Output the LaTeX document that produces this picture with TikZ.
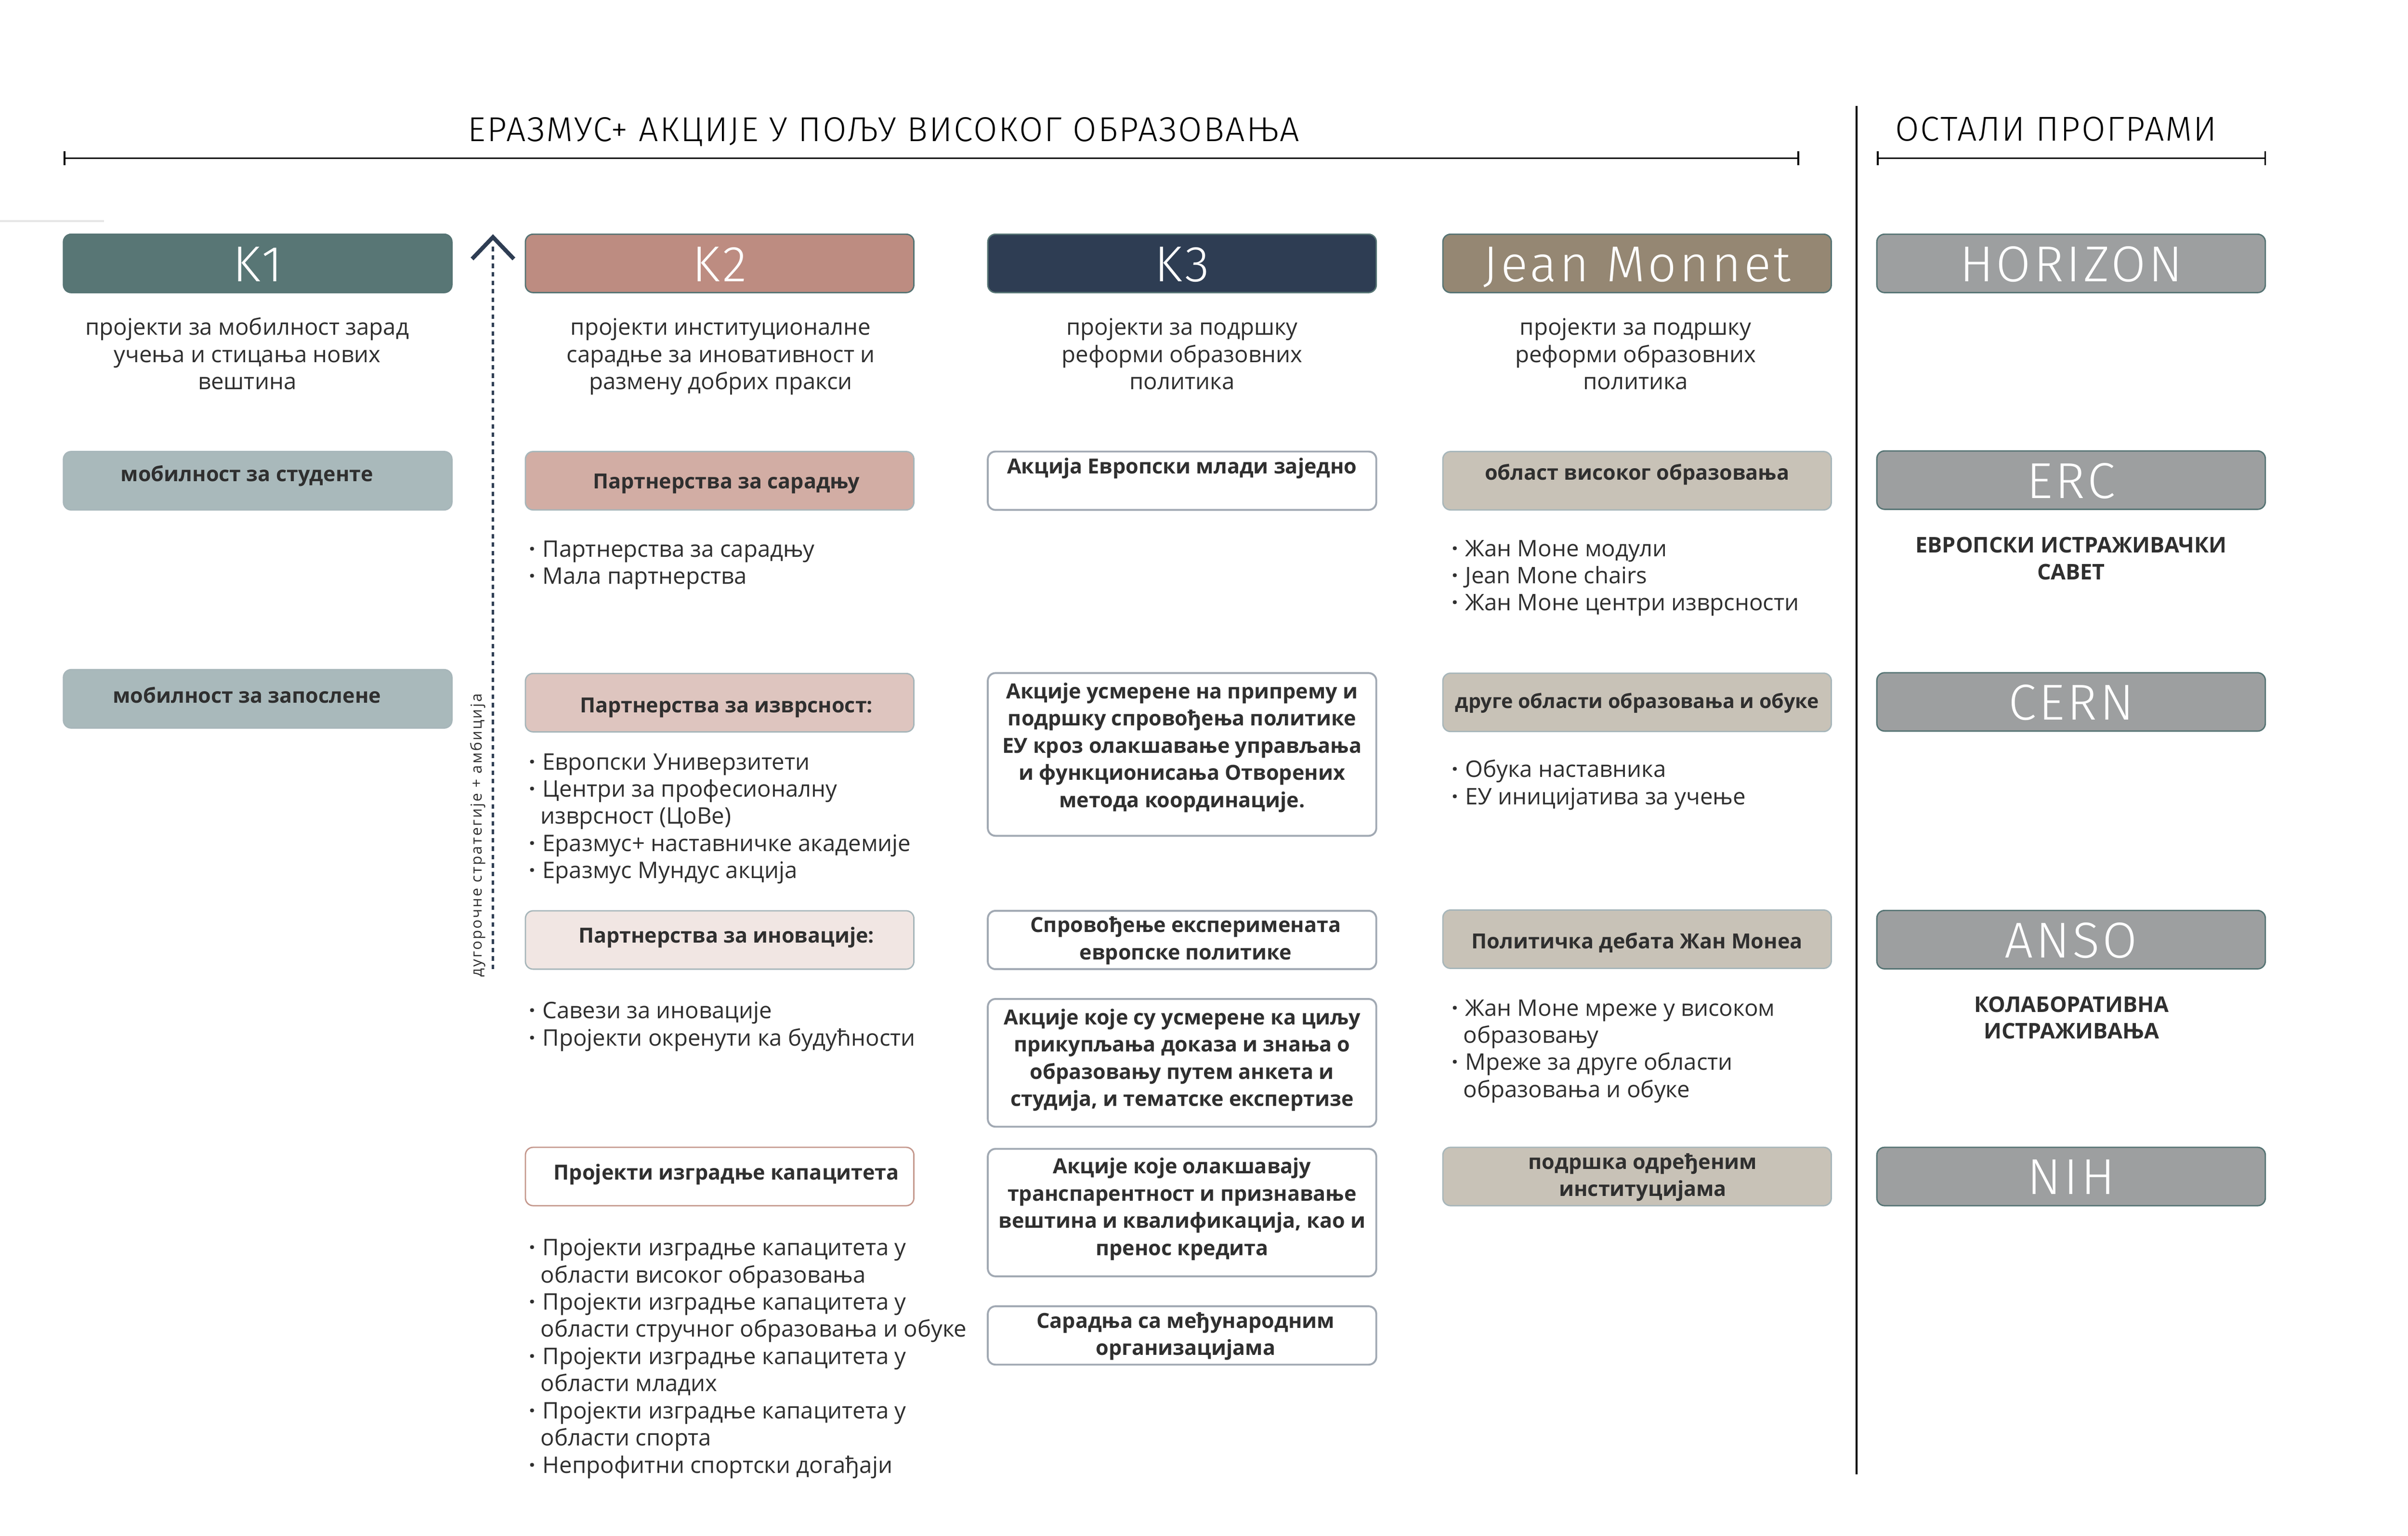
\documentclass[tikz,border=0pt]{standalone}
\usepackage{fontspec}
\setmainfont{Open Sans}
\newfontfamily\hfont[LetterSpace=5.5,UprightFont=* Light]{Fira Sans}
\newfontfamily\tfont[LetterSpace=4,UprightFont=* Light]{Fira Sans}
\newfontfamily\spfont[LetterSpace=10]{Open Sans}

\definecolor{kone}{HTML}{587675}
\definecolor{ktwo}{HTML}{BD8C81}
\definecolor{kthree}{HTML}{2E3D53}
\definecolor{jmon}{HTML}{958773}
\definecolor{othr}{HTML}{9D9FA0}
\definecolor{konel}{HTML}{A9B9BB}
\definecolor{ktwoa}{HTML}{D2ADA4}
\definecolor{ktwob}{HTML}{DEC5BF}
\definecolor{ktwoc}{HTML}{F1E6E3}
\definecolor{jmonl}{HTML}{C8C2B7}
\definecolor{txt}{HTML}{2F2F2F}
\definecolor{hdline}{HTML}{567474}
\definecolor{subline}{HTML}{A7B6BA}
\definecolor{kline}{HTML}{A1A9B3}
\definecolor{capline}{HTML}{C5998E}

\newcommand\bodyfont{\fontsize{8.45}{10.07}\selectfont}
\newcommand\bxfont{\bfseries\fontsize{7.7}{10.07}\selectfont}
\newcommand\hdfont{\hfont\fontsize{18.7}{20}\selectfont}
\newcommand\ttlfont{\tfont\fontsize{12.8}{14}\selectfont}
\newcommand\capfont{\bfseries\fontsize{8}{9.9}\selectfont}
\newcommand\bpt{\makebox[5pt][l]{\textbf{·}}}
\newcommand\bcn{\hspace*{4.3pt}}

\begin{document}
\begin{tikzpicture}
  [x=0.02cm,y=-0.02cm,
   every node/.style={inner sep=0pt,outer sep=0pt,text=txt},
   head/.style={rectangle,rounded corners=0.1cm,draw=hdline,line width=0.5pt,
     minimum width=5.06cm,minimum height=0.76cm,text=white,font=\hdfont,
     text height=13.3pt,text depth=0pt},
   sub/.style={rectangle,rounded corners=0.1cm,draw=subline,line width=0.5pt,
     minimum width=5.06cm,minimum height=0.76cm,font=\bxfont,
     text height=4pt,text depth=0pt},
   kbox/.style={sub,draw=kline,line width=0.7pt,fill=white},
   desc/.style={font=\bodyfont,align=center,anchor=base},
   blist/.style={font=\bodyfont,align=left,anchor=base west},
   btxt/.style={font=\bxfont,align=center,anchor=base},
   captxt/.style={font=\capfont,align=center,anchor=base}]
  \useasboundingbox (0,0) rectangle (1568,1000);

  % titles and brackets
  \node[font=\ttlfont,anchor=base,text=black] (ttl) at (575.5,92) {ЕРАЗМУС+ АКЦИЈЕ У ПОЉУ ВИСОКОГ ОБРАЗОВАЊА};
  \node[font=\ttlfont,anchor=base,text=black] (ttlo) at (1338.8,91.6) {ОСТАЛИ ПРОГРАМИ};
  \foreach \xa/\xb in {42/1171, 1222.7/1475}
    \draw[line width=0.65pt] (\xa,98.5) -- (\xa,107.5) (\xa,103) -- (\xb,103) (\xb,98.5) -- (\xb,107.5);
  \draw[line width=0.7pt] (1209,69) -- (1209,960);
  \draw[black!10,line width=0.6pt] (0,144) -- (67.7,144);

  % header row
  \node[head,fill=kone]   (k1) at (167.8,171.5) {K1};
  \node[head,fill=ktwo]   (k2) at (468.6,171.5) {K2};
  \node[head,fill=kthree] (k3) at (769.7,171.5) {K3};
  \node[head,fill=jmon]   (jm) at (1066,171.5)  {Jean Monnet};
  \foreach \nm/\yy/\tx in {hor/171.5/HORIZON, erc/312.6/ERC, cern/457/CERN, anso/611.8/ANSO, nih/766/NIH}
    \node[head,fill=othr] (\nm) at (1348.6,\yy) {\tx};

  % (multi-line nodes sit on the baseline of their last line)
  \node[desc] (d1) at (161,253.6)   {пројекти за мобилност зарад\\учења и стицања нових\\вештина};
  \node[desc] (d2) at (469.3,253.6) {пројекти институционалне\\сарадње за иновативност и\\размену добрих пракси};
  \node[desc] (d3) at (769.7,253.6) {пројекти за подршку\\реформи образовних\\политика};
  \node[desc] (d4) at (1065,253.6)  {пројекти за подршку\\реформи образовних\\политика};

  % long-term arrow
  \coordinate (lo) at (321,631);
  \coordinate (hi) at (321,159.6);
  \draw[kthree,line width=1.02pt,dash pattern=on 0.058cm off 0.052cm] (lo) -- (hi);
  \draw[kthree,line width=1.5pt] (307.4,168.6) -- (321,154.4) -- (334.6,168.6);
  \node[rotate=90,anchor=base,font=\spfont\fontsize{5.6}{6}\selectfont] (lt) at (313.8,544) {дугорочне стратегије + амбиција};

  % K1
  \node[sub,fill=konel,text height=0.46pt] (m1) at (167.8,313) {мобилност за студенте\hspace*{8pt}};
  \node[sub,fill=konel,text height=3.07pt] (m2) at (167.8,455) {мобилност за запослене\hspace*{8pt}};

  % K2
  \node[sub,fill=ktwoa,text height=5.7pt] (p1) at (468.6,313)   {\hspace*{5pt}Партнерства за сарадњу};
  \node[sub,fill=ktwob,text height=7.2pt] (p2) at (468.6,457.5) {\hspace*{5pt}Партнерства за изврсност:};
  \node[sub,fill=ktwoc,text height=2.3pt] (p3) at (468.6,612)   {\hspace*{5pt}Партнерства за иновације:};
  \node[sub,draw=capline,fill=white,text height=2.5pt] (p4) at (468.6,766) {\hspace*{5pt}Пројекти изградње капацитета};
  \node[blist] (l1) at (344.5,380.3) {\bpt Партнерства за сарадњу\\\bpt Мала партнерства};
  \node[blist] (l2) at (344.5,571.9) {\bpt Европски Универзитети\\\bpt Центри за професионалну\\\bcn изврсност (ЦоВе)\\\bpt Еразмус+ наставничке академије\\\bpt Еразмус Мундус акција};
  \node[blist] (l3) at (344.5,680.9) {\bpt Савези за иновације\\\bpt Пројекти окренути ка будућности};
  \node[blist] (l4) at (344.5,959) {\bpt Пројекти изградње капацитета у\\\bcn области високог образовања\\\bpt Пројекти изградње капацитета у\\\bcn области стручног образовања и обуке\\\bpt Пројекти изградње капацитета у\\\bcn области младих\\\bpt Пројекти изградње капацитета у\\\bcn области спорта\\\bpt Непрофитни спортски догађаји};

  % K3
  \node[kbox,text height=0pt,text depth=5.35pt] (a1) at (769.7,313) {Акција Европски млади заједно};
  \node[kbox,minimum height=2.12cm] (a2) at (769.7,491.2) {};
  \node[btxt] (a2t) at (769.7,525.6) {Акције усмерене на припрему и\\подршку спровођења политике\\ЕУ кроз олакшавање управљања\\и функционисања Отворених\\метода координације.};
  \node[kbox] (a3) at (769.7,612) {};
  \node[btxt] (a3t) at (772,624.8) {Спровођење експеримената\\европске политике};
  \node[kbox,minimum height=1.664cm] (a4) at (769.7,692) {};
  \node[btxt] (a4t) at (769.7,720.2) {Акције које су усмерене ка циљу\\прикупљања доказа и знања о\\образовању путем анкета и\\студија, и тематске експертизе};
  \node[kbox,minimum height=1.66cm] (a5) at (769.7,789.5) {};
  \node[btxt] (a5t) at (769.7,817.3) {Акције које олакшавају\\транспарентност и признавање\\вештина и квалификација, као и\\пренос кредита};
  \node[kbox] (a6) at (769.7,869.5) {};
  \node[btxt] (a6t) at (772,882.3) {Сарадња са међународним\\организацијама};

  % Jean Monnet
  \node[sub,fill=jmonl,text height=0pt,text depth=0.46pt] (j1) at (1066,313) {област високог образовања};
  \node[sub,fill=jmonl,text height=4.55pt,font=\bfseries\fontsize{7.35}{9}\selectfont] (j2) at (1066,457.3) {друге области образовања и обуке};
  \node[sub,fill=jmonl,text height=6.9pt] (j3) at (1066,611.5) {Политичка дебата Жан Монеа};
  \node[sub,fill=jmonl] (j4) at (1066,766) {};
  \node[btxt] (j4t) at (1069.7,778.9) {подршка одређеним\\институцијама};
  \node[blist] (jl1) at (945.3,397.6) {\bpt Жан Моне модули\\\bpt Jean Mone chairs\\\bpt Жан Моне центри изврсности};
  \node[blist] (jl2) at (945.3,523.8) {\bpt Обука наставника\\\bpt ЕУ иницијатива за учење};
  \node[blist] (jl3) at (945.3,714.5) {\bpt Жан Моне мреже у високом\\\bcn образовању\\\bpt Мреже за друге области\\\bcn образовања и обуке};

  % other programmes
  \node[captxt] (ercc) at (1348.6,377.3) {ЕВРОПСКИ ИСТРАЖИВАЧКИ\\САВЕТ};
  \node[captxt] (ansoc) at (1348.9,676.4) {КОЛАБОРАТИВНА\\ИСТРАЖИВАЊА};
\end{tikzpicture}
\end{document}
